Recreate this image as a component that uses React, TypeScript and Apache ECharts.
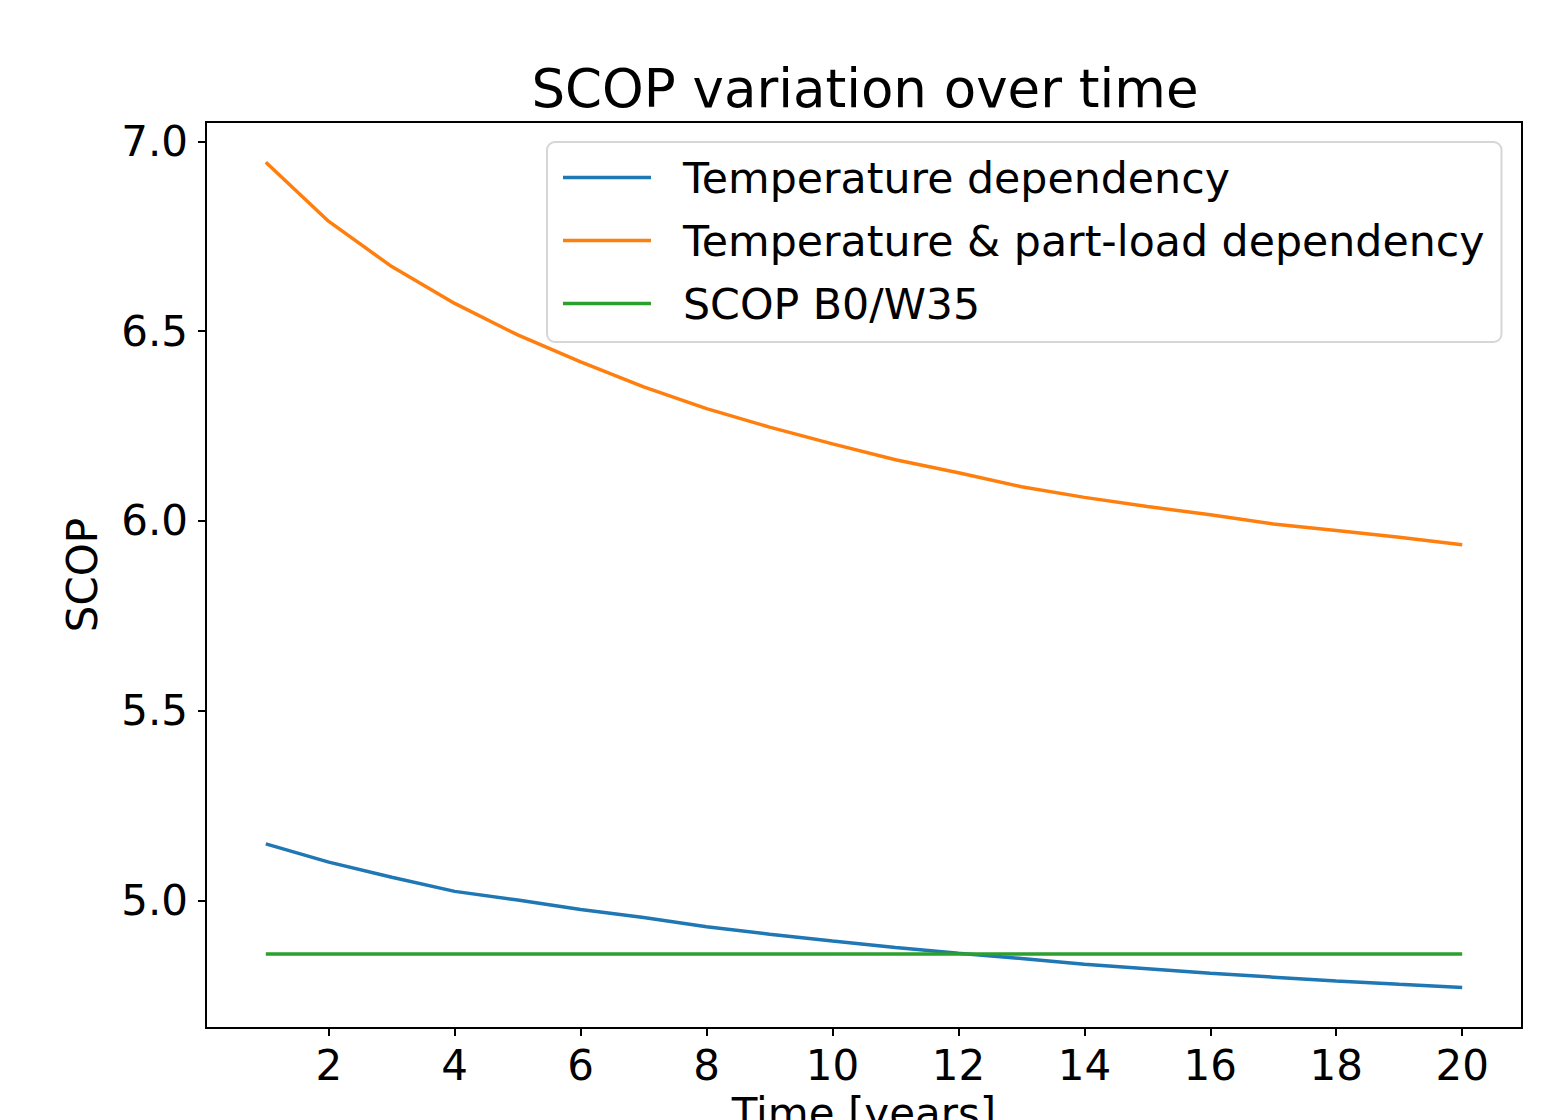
import React, { useEffect, useRef } from "react";
import * as echarts from "echarts";

const years = [1, 2, 3, 4, 5, 6, 7, 8, 9, 10, 11, 12, 13, 14, 15, 16, 17, 18, 19, 20];
const tempDependency = [5.149, 5.101, 5.061, 5.024, 5.001, 4.976, 4.955, 4.931, 4.911, 4.893, 4.876, 4.861, 4.847, 4.832, 4.820, 4.808, 4.798, 4.788, 4.779, 4.771];
const tempPartLoad = [6.945, 6.789, 6.670, 6.573, 6.490, 6.419, 6.353, 6.296, 6.247, 6.203, 6.161, 6.127, 6.090, 6.062, 6.038, 6.016, 5.992, 5.975, 5.957, 5.937];
const scopB0W35 = [4.859, 4.859, 4.859, 4.859, 4.859, 4.859, 4.859, 4.859, 4.859, 4.859, 4.859, 4.859, 4.859, 4.859, 4.859, 4.859, 4.859, 4.859, 4.859, 4.859];
const xTicks = [2, 4, 6, 8, 10, 12, 14, 16, 18, 20];
const yTicks = [5.0, 5.5, 6.0, 6.5, 7.0];
const seriesNames = ["Temperature dependency", "Temperature & part-load dependency", "SCOP B0/W35"];
const colors = ["#1f77b4", "#ff7f0e", "#2ca02c"];

const FONT = "DejaVu Sans";

export default function App() {
  const ref = useRef<HTMLDivElement>(null);
  useEffect(() => {
    if (!ref.current) return;
    const chart = echarts.init(ref.current, null, { renderer: "svg" });
    const pair = (vals: number[]) => years.map((y, i) => [y, vals[i]]);
    const allSeries = [tempDependency, tempPartLoad, scopB0W35];
    chart.setOption({
      animation: false,
      backgroundColor: "#ffffff",
      title: {
        text: "SCOP variation over time",
        left: 860,
        top: 57,
        textAlign: "center",
        textStyle: { fontFamily: FONT, fontSize: 53, fontWeight: "normal", color: "#000" },
      },
      grid: {
        left: 206,
        top: 122,
        right: 31,
        bottom: 92,
        containLabel: false,
        outerBoundsMode: "none",
        show: true,
        borderColor: "#000",
        borderWidth: 2,
        backgroundColor: "transparent",
      },
      legend: {
        orient: "vertical",
        left: 547,
        top: 142,
        padding: [14, 17, 17, 16],
        icon: "rect",
        itemWidth: 88,
        itemHeight: 3.5,
        itemGap: 20,
        backgroundColor: "#ffffff",
        borderColor: "#d6d6d6",
        borderWidth: 2,
        borderRadius: 8,
        data: seriesNames.map((n, i) => ({ name: n, icon: "rect", itemStyle: { color: colors[i] } })),
        textStyle: {
          fontFamily: FONT,
          fontSize: 42.7,
          color: "#000",
          lineHeight: 42,
          padding: [0, 0, 0, 27],
        },
      },
      xAxis: {
        type: "value",
        min: 0.05,
        max: 20.95,
        name: "Time [years]",
        nameLocation: "middle",
        nameGap: 64,
        nameTextStyle: { fontFamily: FONT, fontSize: 42, color: "#000" },
        axisLine: { show: true, onZero: false, lineStyle: { color: "#000", width: 2 } },
        axisTick: { show: true, customValues: xTicks, length: 8, lineStyle: { color: "#000", width: 2 } },
        axisLabel: {
          customValues: xTicks,
          margin: 16,
          fontFamily: FONT,
          fontSize: 42,
          color: "#000",
        },
        splitLine: { show: false },
      },
      yAxis: {
        type: "value",
        min: 4.664,
        max: 7.051,
        name: "SCOP",
        nameLocation: "middle",
        nameGap: 103,
        nameTextStyle: { fontFamily: FONT, fontSize: 42, color: "#000" },
        axisLine: { show: true, onZero: false, lineStyle: { color: "#000", width: 2 } },
        axisTick: { show: true, customValues: yTicks, length: 8, lineStyle: { color: "#000", width: 2 } },
        axisLabel: {
          customValues: yTicks,
          margin: 18,
          fontFamily: FONT,
          fontSize: 42,
          color: "#000",
          formatter: (v: number) => v.toFixed(1),
        },
        splitLine: { show: false },
      },
      series: allSeries.map((vals, i) => ({
        name: seriesNames[i],
        type: "line",
        data: pair(vals),
        symbol: "none",
        showSymbol: false,
        smooth: false,
        lineStyle: { color: colors[i], width: 3.5 },
        itemStyle: { color: colors[i] },
        z: 2,
      })),
    });
    return () => chart.dispose();
  }, []);
  return (
    <div
      ref={ref}
      style={{ position: "absolute", left: 0, top: 0, width: 1553, height: 1120, overflow: "hidden" }}
    />
  );
}
